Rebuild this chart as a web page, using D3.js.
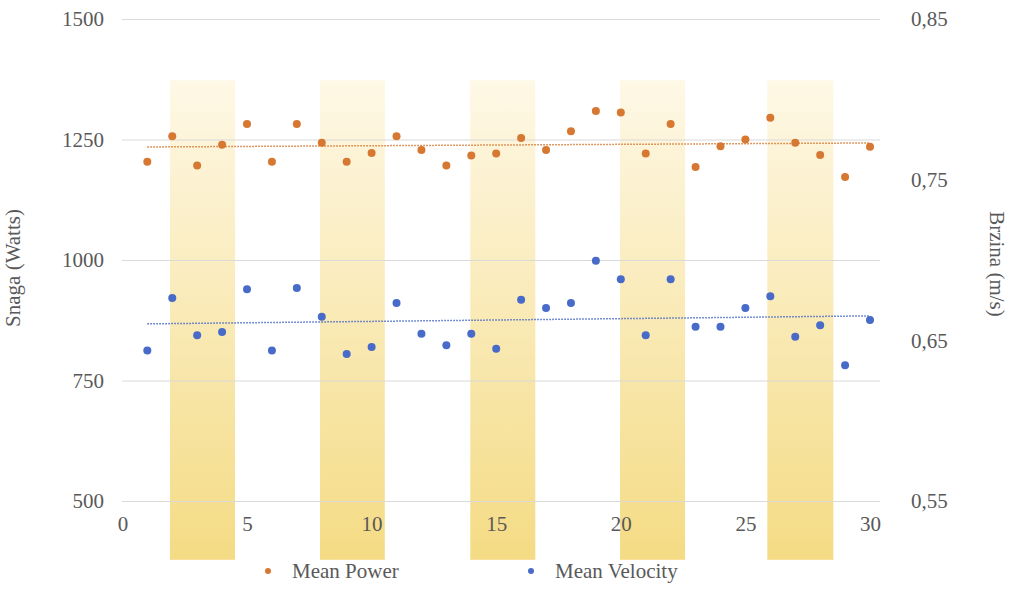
<!DOCTYPE html>
<html>
<head>
<meta charset="utf-8">
<script src="https://cdn.jsdelivr.net/npm/d3@7"></script>
</head>
<body style="margin:0">
<script>
// ---- data ----
const sessions = d3.range(1, 31);
const meanPower = [1204, 1257, 1196, 1239, 1282, 1204, 1282, 1243, 1204, 1222,
                   1257, 1228, 1196, 1217, 1221, 1253, 1228, 1267, 1309, 1306,
                   1221, 1282, 1193, 1236, 1250, 1295, 1243, 1218, 1172, 1235];
const meanVelocity = [0.6436, 0.6763, 0.6531, 0.6552, 0.6818, 0.6436, 0.6826, 0.6647, 0.6415, 0.6459,
                      0.6732, 0.6541, 0.6469, 0.6541, 0.6448, 0.6753, 0.6701, 0.6732, 0.6996, 0.6880,
                      0.6531, 0.6880, 0.6585, 0.6585, 0.6701, 0.6774, 0.6523, 0.6594, 0.6345, 0.6627];
const bandStart = [1.91, 7.93, 13.96, 19.97, 25.88];
const bandEnd   = [4.52, 10.53, 16.57, 22.58, 28.53];
const bandTopValue = 1373, bandBottomValue = 378;
const xTicks = [0, 5, 10, 15, 20, 25, 30];
const leftTicks = [500, 750, 1000, 1250, 1500];
const rightTicks = [0.55, 0.65, 0.75, 0.85];
const seriesNames = ["Mean Power", "Mean Velocity"];
const leftTitle = "Snaga (Watts)";
const rightTitle = "Brzina (m/s)";

// ---- layout ----
const W = 1024, H = 598;
const FONT = '"Liberation Serif"';
const FS = 21;
const TXT = "#595959";
const colors = { power: "#d67832", velocity: "#486ac8" };

const svg = d3.select("body").append("svg").attr("width", W).attr("height", H)
  .style("display", "block");

const x = d3.scaleLinear().domain([0, 30]).range([122.4, 870]);
const yL = d3.scaleLinear().domain([500, 1500]).range([501, 19]);
const yR = d3.scaleLinear().domain([0.55, 0.85]).range([501, 19]);

function styleText(sel) {
  sel.attr("font-size", FS).attr("fill", TXT).style("font-family", FONT);
}

// gradient for bands
const defs = svg.append("defs");
const grad = defs.append("linearGradient").attr("id", "bandGrad")
  .attr("x1", 0).attr("y1", 0).attr("x2", 0).attr("y2", 1);
grad.append("stop").attr("offset", "0%").attr("stop-color", "#fef8e6");
grad.append("stop").attr("offset", "100%").attr("stop-color", "#f4db84");

// bands
svg.append("g").selectAll("rect").data(bandStart).join("rect")
  .attr("x", (d) => x(d))
  .attr("width", (d, i) => x(bandEnd[i]) - x(d))
  .attr("y", yL(bandTopValue))
  .attr("height", yL(bandBottomValue) - yL(bandTopValue))
  .attr("fill", "url(#bandGrad)");

// gridlines (left axis)
const gridAxis = d3.axisLeft(yL).tickValues(leftTicks).tickSize(-(880 - 122)).tickFormat("");
const gg = svg.append("g").attr("transform", "translate(122,0)").call(gridAxis);
gg.select(".domain").remove();
gg.selectAll("line").attr("stroke", "#d9d9d9").attr("stroke-width", 1);

// left tick labels
const la = d3.axisLeft(yL).tickValues(leftTicks).tickSize(0).tickPadding(0).tickFormat(d3.format("d"));
const lg = svg.append("g").attr("transform", "translate(104,0)").call(la);
lg.select(".domain").remove();
lg.attr("font-family", null).attr("font-size", null);
lg.selectAll("text").call(styleText);

// right tick labels
const ra = d3.axisRight(yR).tickValues(rightTicks).tickSize(0).tickPadding(0)
  .tickFormat((d) => d3.format(".2f")(d).replace(".", ","));
const rg = svg.append("g").attr("transform", "translate(911,0)").call(ra);
rg.select(".domain").remove();
rg.attr("font-family", null).attr("font-size", null);
rg.selectAll("text").call(styleText);

// x tick labels
const xa = d3.axisBottom(x).tickValues(xTicks).tickSize(0).tickPadding(0).tickFormat(d3.format("d"));
const xg = svg.append("g").attr("transform", "translate(0,516)").call(xa);
xg.select(".domain").remove();
xg.attr("font-family", null).attr("font-size", null);
xg.selectAll("text").call(styleText);

// axis titles
svg.append("text").attr("transform", "translate(20,268) rotate(-90)")
  .attr("text-anchor", "middle").text(leftTitle).call(styleText);
svg.append("text").attr("transform", "translate(990,264) rotate(90)")
  .attr("text-anchor", "middle").text(rightTitle).call(styleText);

// trendlines (linear regression)
function regress(xs, ys) {
  const mx = d3.mean(xs), my = d3.mean(ys);
  const b = d3.sum(xs, (v, i) => (v - mx) * (ys[i] - my)) / d3.sum(xs, (v) => (v - mx) * (v - mx));
  return [b, my - b * mx];
}
const [bp, ap] = regress(sessions, meanPower);
const [bv, av] = regress(sessions, meanVelocity);
const x0 = sessions[0], x1 = sessions[sessions.length - 1];
svg.append("line")
  .attr("x1", x(x0)).attr("x2", x(x1)).attr("y1", yL(ap + bp * x0)).attr("y2", yL(ap + bp * x1))
  .attr("stroke", colors.power).attr("stroke-width", 1.5).attr("stroke-dasharray", "1.5,1.5");
svg.append("line")
  .attr("x1", x(x0)).attr("x2", x(x1)).attr("y1", yR(av + bv * x0)).attr("y2", yR(av + bv * x1))
  .attr("stroke", colors.velocity).attr("stroke-width", 1.5).attr("stroke-dasharray", "1.5,1.5");

// points
svg.append("g").selectAll("circle").data(meanPower).join("circle")
  .attr("cx", (d, i) => x(sessions[i])).attr("cy", (d) => yL(d)).attr("r", 4)
  .attr("fill", colors.power);
svg.append("g").selectAll("circle").data(meanVelocity).join("circle")
  .attr("cx", (d, i) => x(sessions[i])).attr("cy", (d) => yR(d)).attr("r", 4)
  .attr("fill", colors.velocity);

// legend
const legendX = [268, 531];
const legendColors = [colors.power, colors.velocity];
const leg = svg.append("g");
seriesNames.forEach((name, i) => {
  leg.append("circle").attr("cx", legendX[i]).attr("cy", 571).attr("r", 3).attr("fill", legendColors[i]);
  leg.append("text").attr("x", legendX[i] + 24).attr("y", 578).text(name).call(styleText);
});
</script>
</body>
</html>
